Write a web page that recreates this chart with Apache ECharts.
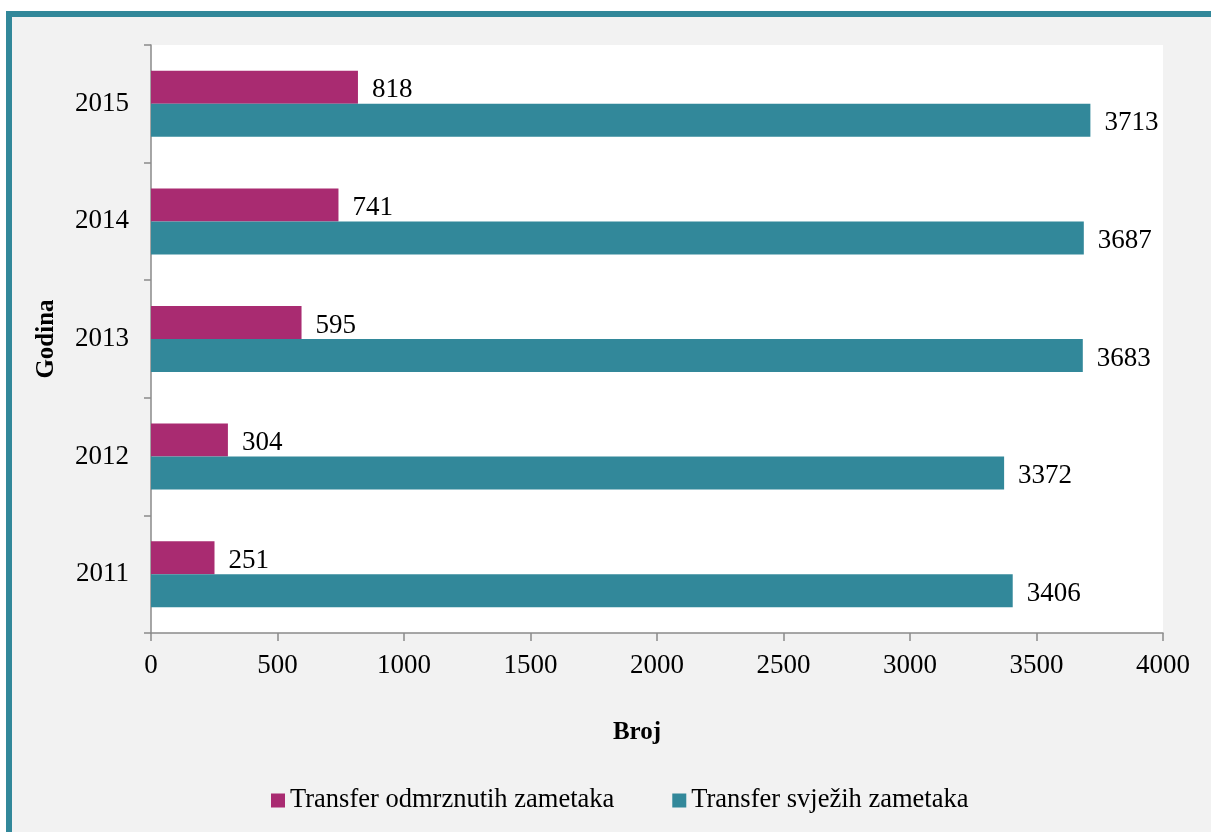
<!DOCTYPE html>
<html>
<head>
<meta charset="utf-8">
<title>Transfer zametaka</title>
<script src="https://cdn.jsdelivr.net/npm/echarts@6/dist/echarts.min.js"></script>
<style>
  html, body { margin: 0; padding: 0; background: #ffffff; }
  #chart { width: 1211px; height: 832px; }
</style>
</head>
<body>
<div id="chart"></div>
<script>
// Years on the category axis (bottom to top)
const years = ['2011', '2012', '2013', '2014', '2015'];
// Frozen embryo transfers per year
const frozenTransfers = [251, 304, 595, 741, 818];
// Fresh embryo transfers per year
const freshTransfers = [3406, 3372, 3683, 3687, 3713];
// Value axis ticks
const xTicks = [0, 500, 1000, 1500, 2000, 2500, 3000, 3500, 4000];

const nameFrozen = 'Transfer odmrznutih zametaka';
const nameFresh = 'Transfer svježih zametaka';

const serif = '"Liberation Serif", "Times New Roman", serif';
const axisGrey = '#8a8a8a';
const magenta = '#a92b71';
const teal = '#32889a';

const chart = echarts.init(document.getElementById('chart'), null, { renderer: 'canvas' });

const labelStyle = {
  show: true,
  position: 'right',
  distance: 14,
  offset: [0, 3],
  color: '#000',
  fontFamily: serif,
  fontSize: 27
};

chart.setOption({
  animation: false,
  backgroundColor: 'transparent',
  textStyle: { fontFamily: serif },
  graphic: [{
    type: 'rect',
    z: -10,
    silent: true,
    shape: { x: 9, y: 14, width: 1400, height: 1000 },
    style: { fill: '#f2f2f2', stroke: teal, lineWidth: 6 }
  }],
  grid: {
    left: 151, top: 45, right: 48, bottom: 199,
    show: true, backgroundColor: '#ffffff', borderWidth: 0
  },
  legend: {
    data: [nameFrozen, nameFresh],
    bottom: 13,
    left: 266,
    itemWidth: 14,
    itemHeight: 14,
    itemGap: 58,
    icon: 'rect',
    textStyle: { fontFamily: serif, fontSize: 26.5, color: '#000' }
  },
  xAxis: {
    type: 'value',
    min: xTicks[0],
    max: xTicks[xTicks.length - 1],
    interval: xTicks[1] - xTicks[0],
    name: 'Broj',
    nameLocation: 'middle',
    nameGap: 87,
    nameTextStyle: { fontFamily: serif, fontSize: 25, fontWeight: 'bold', color: '#000', padding: [0, 40, 0, 0] },
    axisLine: { show: true, lineStyle: { color: axisGrey, width: 1.5 } },
    axisTick: { show: true, length: 8, lineStyle: { color: axisGrey, width: 1.5 } },
    splitLine: { show: false },
    axisLabel: { fontFamily: serif, fontSize: 27, color: '#000', margin: 19, formatter: (v) => String(v) }
  },
  yAxis: {
    type: 'category',
    data: years,
    name: 'Godina',
    nameLocation: 'middle',
    nameRotate: 90,
    nameGap: 92,
    nameTextStyle: { fontFamily: serif, fontSize: 25, fontWeight: 'bold', color: '#000' },
    axisLine: { show: true, lineStyle: { color: axisGrey, width: 1.5 } },
    axisTick: { show: true, length: 7, alignWithLabel: false, lineStyle: { color: axisGrey, width: 1.5 } },
    axisLabel: { fontFamily: serif, fontSize: 27, color: '#000', margin: 22 }
  },
  series: [
    {
      name: nameFrozen,
      type: 'bar',
      data: frozenTransfers,
      barWidth: 33,
      barGap: '0%',
      itemStyle: { color: magenta },
      label: labelStyle
    },
    {
      name: nameFresh,
      type: 'bar',
      data: freshTransfers,
      barWidth: 33,
      barGap: '0%',
      itemStyle: { color: teal },
      label: labelStyle
    }
  ]
});
</script>
</body>
</html>
